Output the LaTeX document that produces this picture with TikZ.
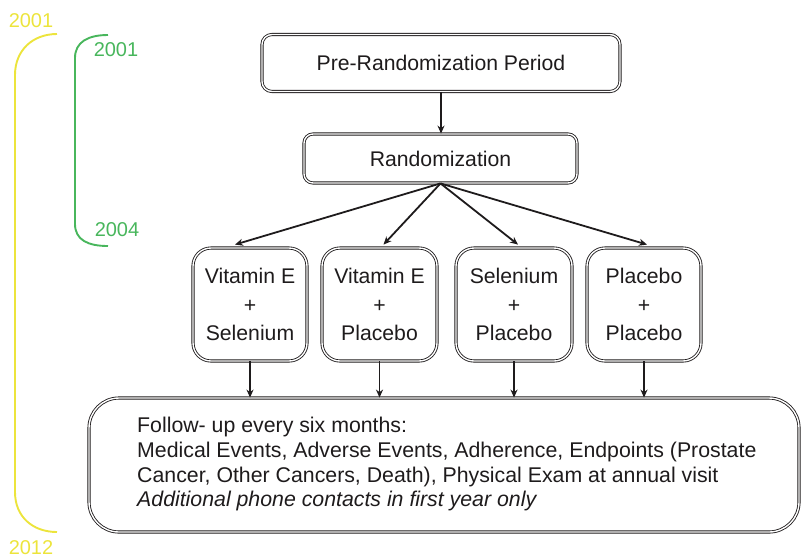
\documentclass[tikz,border=0pt]{standalone}
\usepackage{fontspec}
\setmainfont{Liberation Sans}
\usetikzlibrary{arrows.meta}
\definecolor{ink}{RGB}{30,27,28}
\definecolor{yel}{RGB}{236,228,60}
\definecolor{grn}{RGB}{72,182,92}
\begin{document}
\begin{tikzpicture}[x=1pt,y=-1pt,
  dbox/.style={draw=ink, double=white, double distance=1.4pt, line width=0.85pt, text=ink,
    font=\fontsize{21.2}{28.3}\selectfont, inner sep=0pt, align=center},
  arr/.style={-{Stealth[length=8pt,width=7pt]}, line width=1.8pt, draw=ink},
  yr/.style={font=\fontsize{20}{24}\selectfont, inner sep=0pt},
  brk/.style={line width=1.9pt}]
\useasboundingbox (0,0) rectangle (802,558);

% main boxes
\node[dbox, rounded corners=10pt, minimum width=358pt, minimum height=57pt] (pre) at (441,63) {Pre-Randomization Period};
\node[dbox, rounded corners=9pt, minimum width=273pt, minimum height=49pt] (rand) at (440.5,158.5) {Randomization};

\node[dbox, rounded corners=18pt, minimum width=114pt, minimum height=113pt] (b1) at (250,304.5) {Vitamin E\\+\\Selenium};
\node[dbox, rounded corners=18pt, minimum width=115pt, minimum height=113pt] (b2) at (379.5,304.5) {Vitamin E\\+\\Placebo};
\node[dbox, rounded corners=18pt, minimum width=116pt, minimum height=113pt] (b3) at (514,304.5) {Selenium\\+\\Placebo};
\node[dbox, rounded corners=18pt, minimum width=114pt, minimum height=113pt] (b4) at (644,304.5) {Placebo\\+\\Placebo};

\node[dbox, rounded corners=30pt, minimum width=710pt, minimum height=134pt] (fol) at (444,465) {};
\node[anchor=north west, inner sep=0pt, align=left, text=ink, font=\fontsize{21.3}{24.7}\selectfont] (ftext) at (137,417)
  {Follow- up every six months:\\
   Medical Events, Adverse Events, Adherence, Endpoints (Prostate\\
   Cancer, Other Cancers, Death), Physical Exam at annual visit\\
   \textit{Additional phone contacts in first year only}};

% arrows
\draw[arr] (pre.south) -- (pre.south |- rand.north);
\draw[arr] (rand.south) -- ([shift={(-15,-3)}]b1.north);
\draw[arr] (rand.south) -- ([shift={(4,-3)}]b2.north);
\draw[arr] (rand.south) -- ([shift={(4,-3)}]b3.north);
\draw[arr] (rand.south) -- ([shift={(3,-3)}]b4.north);
\foreach \b in {b1,b2,b3,b4}
  \draw[arr] (\b.south) -- (\b.south |- fol.north);

% timeline brackets
\draw[grn, brk] (108,35) .. controls (88,35) and (75,42) .. (75,58) -- (75,224)
  .. controls (75,240) and (88,246) .. (108,246);
\draw[yel, brk] (57,34) .. controls (33,34) and (15,50) .. (15,75) -- (15,492)
  .. controls (15,517) and (33,532) .. (57,532);

\node[yr, text=yel] (y1) at (31,21) {2001};
\node[yr, text=yel] (y2) at (31,548) {2012};
\node[yr, text=grn] (g1) at (116,50) {2001};
\node[yr, text=grn] (g2) at (117,230) {2004};
\end{tikzpicture}
\end{document}
